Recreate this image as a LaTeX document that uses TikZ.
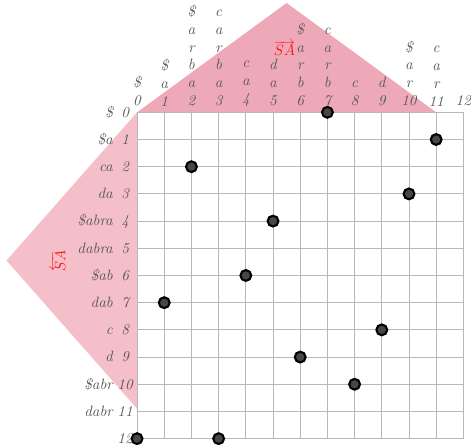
\documentclass[tikz,border=0pt]{standalone}
\begin{document}
\begin{tikzpicture}[
  x=0.6375cm, y=0.6375cm,
  every node/.style={font=\itshape, text=black!65},
  collabel/.style={anchor=south, align=center, inner sep=0pt},
  rowword/.style={anchor=base east, inner sep=0pt},
  rownum/.style={anchor=base, inner sep=0pt},
  dot/.style={circle, draw=black, line width=1.4pt, fill=black!72,
    minimum size=7.2pt, inner sep=0pt},
  salabel/.style={font=\normalsize, text=red!90!white, inner sep=0pt}
]
  \useasboundingbox (-5.04,4.13) rectangle (12.28,-12.23);

  % Pink regions
  \fill[fill={rgb,255:red,238;green,169;blue,184}] (0,0) -- (5.5,4.02) -- (11,0) -- cycle;
  \fill[fill={rgb,255:red,245;green,191;blue,202}] (0,0) -- (-4.8,-5.45) -- (0,-10.9) -- cycle;

  % Grid
  \draw[black!28, line width=0.6pt, step=1] (0,-12) grid (12,0);

  % Column labels
  \node[collabel] (c0) at (0,0.21) {\$\\0};
  \node[collabel] (c1) at (1,0.21) {\$\\a\\1};
  \node[collabel] (c2) at (2,0.21) {\$\\a\\r\\b\\a\\2};
  \node[collabel] (c3) at (3,0.21) {c\\a\\r\\b\\a\\3};
  \node[collabel] (c4) at (4,0.21) {c\\a\\4};
  \node[collabel] (c5) at (5,0.21) {d\\a\\5};
  \node[collabel] (c6) at (6,0.21) {\$\\a\\r\\b\\6};
  \node[collabel] (c7) at (7,0.21) {c\\a\\r\\b\\7};
  \node[collabel] (c8) at (8,0.21) {c\\8};
  \node[collabel] (c9) at (9,0.21) {d\\9};
  \node[collabel] (c10) at (10,0.21) {\$\\a\\r\\10};
  \node[collabel] (c11) at (11,0.21) {c\\a\\r\\11};
  \node[collabel] (c12) at (12,0.21) {12};

  % Row labels
  \foreach \r/\w in {0/\$, 1/\$a, 2/ca, 3/da, 4/\$abra, 5/dabra, 6/\$ab,
                     7/dab, 8/c, 9/d, 10/\$abr, 11/dabr, 12/{}} {
    \node[rownum] (r\r) at (-0.44,-\r-0.18) {\r};
    \node[rowword] (w\r) at (-0.88,-\r-0.18) {\w};
  }

  % Direction labels
  \node[salabel] (top) at (5.42,2.36) {$\overrightarrow{SA}$};
  \node[salabel, rotate=90] (left) at (-2.9,-5.47) {$\overleftarrow{SA}$};

  % Points
  \node[dot] (p0) at (7,0) {};
  \node[dot] (p1) at (11,-1) {};
  \node[dot] (p2) at (2,-2) {};
  \node[dot] (p3) at (10,-3) {};
  \node[dot] (p4) at (5,-4) {};
  \node[dot] (p6) at (4,-6) {};
  \node[dot] (p7) at (1,-7) {};
  \node[dot] (p8) at (9,-8) {};
  \node[dot] (p9) at (6,-9) {};
  \node[dot] (p10) at (8,-10) {};
  \node[dot] (p12a) at (0,-12) {};
  \node[dot] (p12b) at (3,-12) {};
\end{tikzpicture}
\end{document}
